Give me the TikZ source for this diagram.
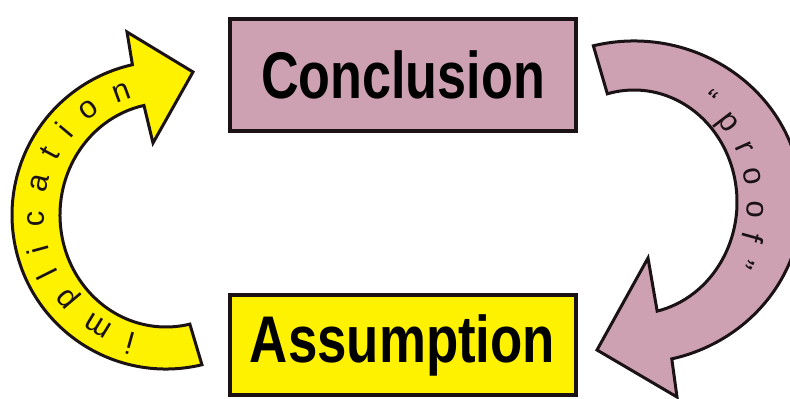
\documentclass[tikz,border=0pt]{standalone}
\usepackage{fontspec}
\setmainfont{Liberation Sans}
\usetikzlibrary{calc,decorations.text}

\definecolor{proofpink}{RGB}{205,161,177}
\definecolor{implyellow}{RGB}{255,242,0}
\definecolor{inkline}{RGB}{26,18,20}
\newcommand{\boxfont}{\fontsize{66}{70}\selectfont\bfseries}
\newcommand{\arcfont}{\fontsize{31}{34}\selectfont}

\begin{document}
\begin{tikzpicture}[x=1pt, y=1pt,
  statebox/.style={draw=inkline, line width=4pt, minimum width=346pt, inner sep=0pt, font=\boxfont},
  bentarrow/.style={draw=inkline, line width=3pt, line join=miter},
  arclabel/.style={decorate, decoration={text along path, text align=fit to path, text color=inkline, text={|\arcfont|#1}}}]
  \useasboundingbox (0,0) rectangle (790,399);
  % the two statements
  \node[statebox, fill=proofpink, minimum height=112pt] (conclusion) at (403,324) {\scalebox{0.79}[1]{Conclusion}};
  \node[statebox, fill=implyellow, minimum height=100pt] (assumption) at (402.5,54) {\scalebox{0.8}[1]{Assumption}};
  % left bent arrow
  \coordinate (lc) at (166,184);
  \draw[bentarrow, fill=implyellow] ($(lc)+(283.5:154pt)$) arc[start angle=283.5, end angle=102.6, radius=154pt]
    -- (127,367) -- (193,327) -- (153,256)
    -- ($(lc)+(102:106pt and 112pt)$) arc[start angle=102, end angle=283, x radius=106pt, y radius=112pt] -- cycle;
  \path[arclabel={implication}] ($(lc)+(256:122pt)$) arc[start angle=256, end angle=106, radius=122pt];
  % right bent arrow
  \coordinate (rc) at (634,197);
  \draw[bentarrow, fill=proofpink] ($(rc)+(104:168pt and 161pt)$) arc[start angle=104, end angle=-77, x radius=168pt, y radius=161pt]
    -- (677,2) -- (597,49) -- (648,141)
    -- ($(rc)+(-77:103pt and 112pt)$) arc[start angle=-77, end angle=105, x radius=103pt, y radius=112pt] -- cycle;
  \path[arclabel={“proof”}] ($(rc)+(55:113pt and 119pt)$) arc[start angle=55, end angle=-30, x radius=113pt, y radius=119pt];
\end{tikzpicture}
\end{document}
